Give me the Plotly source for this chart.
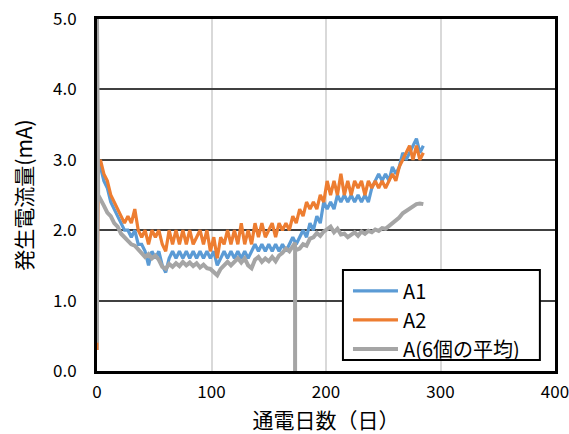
import plotly.graph_objects as go

# Days of operation shared by A1 and A2
days = [0, 1] + list(range(3, 286, 3))

# Generated current A1 (mA)
a1 = [0.3, 2.9,
      2.9, 2.7, 2.6, 2.4, 2.3, 2.2, 2.1, 2.0, 2.0, 1.9,
      2.0, 1.8, 1.8, 1.7, 1.5, 1.7, 1.6, 1.7, 1.5, 1.4,
      1.6, 1.7, 1.6, 1.7, 1.6, 1.7, 1.6, 1.7, 1.6, 1.7,
      1.6, 1.7, 1.6, 1.7, 1.5, 1.6, 1.7, 1.6, 1.7, 1.6,
      1.7, 1.6, 1.7, 1.6, 1.7, 1.8, 1.7, 1.8, 1.7, 1.8,
      1.7, 1.8, 1.7, 1.8, 1.7, 1.8, 1.9, 1.8, 1.9, 2.0,
      1.9, 2.1, 2.0, 2.2, 2.1, 2.4, 2.3, 2.4, 2.3, 2.5,
      2.4, 2.5, 2.4, 2.5, 2.4, 2.5, 2.4, 2.5, 2.4, 2.6,
      2.7, 2.8, 2.7, 2.8, 2.7, 2.9, 2.8, 2.9, 3.1, 3.0,
      3.1, 3.2, 3.3, 3.1, 3.2]

# Generated current A2 (mA)
a2 = [0.3, 2.9,
      3.0, 2.8, 2.7, 2.5, 2.4, 2.3, 2.2, 2.1, 2.2, 2.1,
      2.3, 2.0, 1.9, 2.0, 1.8, 2.0, 1.9, 2.0, 1.8, 1.7,
      2.0, 1.8, 2.0, 1.8, 2.0, 1.8, 2.0, 1.8, 1.9, 2.0,
      1.8, 2.0, 1.7, 1.9, 1.6, 1.9, 1.8, 2.0, 1.8, 2.0,
      1.8, 2.1, 1.8, 2.0, 1.8, 2.1, 1.9, 2.1, 1.9, 2.0,
      2.1, 1.9, 2.1, 2.0, 2.1, 2.0, 2.2, 2.1, 2.3, 2.2,
      2.4, 2.3, 2.4, 2.3, 2.5, 2.4, 2.7, 2.5, 2.7, 2.5,
      2.8, 2.5, 2.7, 2.5, 2.7, 2.6, 2.7, 2.5, 2.7, 2.6,
      2.7, 2.6, 2.7, 2.6, 2.7, 2.8, 2.7, 2.9, 3.0, 3.1,
      3.2, 3.0, 3.2, 3.0, 3.1]

# Average of six cells (own day axis: start-up spike and the outage near day 173)
avg_days = [0, 0, 1] + list(range(3, 172, 3)) + [173, 173, 173] + list(range(174, 286, 3))
avg = [0.4, 5.0, 2.5,
       2.45, 2.35, 2.25, 2.2, 2.1, 2.05, 1.95, 1.9, 1.85, 1.8,
       1.78, 1.72, 1.68, 1.62, 1.66, 1.6, 1.64, 1.58, 1.48, 1.45,
       1.52, 1.48, 1.53, 1.49, 1.55, 1.5, 1.54, 1.49, 1.53, 1.47,
       1.51, 1.46, 1.45, 1.4, 1.36, 1.45, 1.5, 1.55, 1.5, 1.56,
       1.6, 1.54, 1.6, 1.5, 1.46, 1.58, 1.62, 1.55, 1.6, 1.56,
       1.62, 1.56, 1.64, 1.68, 1.74, 1.7, 1.78,
       1.82, 0.0, 1.75,
       1.72, 1.74, 1.8, 1.78, 1.88, 1.9, 1.96, 1.92, 1.98, 2.02,
       2.05, 1.97, 2.02, 1.94, 1.95, 1.9, 1.94, 1.97, 1.92, 1.98,
       1.95, 1.99, 1.97, 2.01, 1.99, 2.03, 2.02, 2.06, 2.1, 2.13,
       2.18, 2.24, 2.27, 2.31, 2.33, 2.37, 2.38, 2.37]

FONT = "Noto Sans CJK JP"

fig = go.Figure()
fig.add_trace(go.Scatter(x=days, y=a1, mode="lines", name="A1",
                         line=dict(color="#5B9BD5", width=3.2),
                         legendgroup="a1"))
fig.add_trace(go.Scatter(x=days, y=a2, mode="lines", name="A2",
                         line=dict(color="#ED7D31", width=3.2),
                         legendgroup="a2"))
fig.add_trace(go.Scatter(x=avg_days, y=avg, mode="lines", name="A(6個の平均)",
                         line=dict(color="#A5A5A5", width=4),
                         legendgroup="avg"))

# Legend frame: a white box with a black border behind the legend entries
fig.add_shape(type="rect", xref="paper", yref="paper",
              x0=0.537, x1=0.967, y0=0.031, y1=0.287,
              line=dict(color="black", width=2), fillcolor="white",
              layer="above")

fig.update_layout(
    width=569, height=434,
    margin=dict(l=97, r=14, t=19, b=63, autoexpand=False),
    paper_bgcolor="white", plot_bgcolor="white",
    font=dict(family=FONT, size=17, color="black"),
    legend=dict(x=0.548, y=0.283, xanchor="left", yanchor="top",
                borderwidth=0, bgcolor="rgba(0,0,0,0)",
                font=dict(family=FONT, size=20, color="black"),
                itemwidth=45, tracegroupgap=5, traceorder="normal"),
    showlegend=True,
)
fig.update_xaxes(range=[0, 400], dtick=100, tick0=0,
                 showgrid=True, gridcolor="#D9D9D9", gridwidth=1.5,
                 showline=True, mirror=True, linecolor="black", linewidth=3,
                 zeroline=False, ticks="", ticklen=0, ticklabelstandoff=4,
                 ticklabeloverflow="allow",
                 layer="below traces", automargin=False,
                 title=dict(text="通電日数（日）", font=dict(size=21), standoff=17))
fig.update_yaxes(range=[0, 5], dtick=1, tick0=0, tickformat=".1f",
                 showgrid=True, gridcolor="#404040", gridwidth=1.5,
                 showline=True, mirror=True, linecolor="black", linewidth=3,
                 zeroline=False, ticks="", ticklen=0, ticklabelstandoff=14,
                 layer="below traces", automargin=False,
                 title=dict(text="発生電流量(mA)", font=dict(size=21), standoff=15))

fig.write_html("out.html")
